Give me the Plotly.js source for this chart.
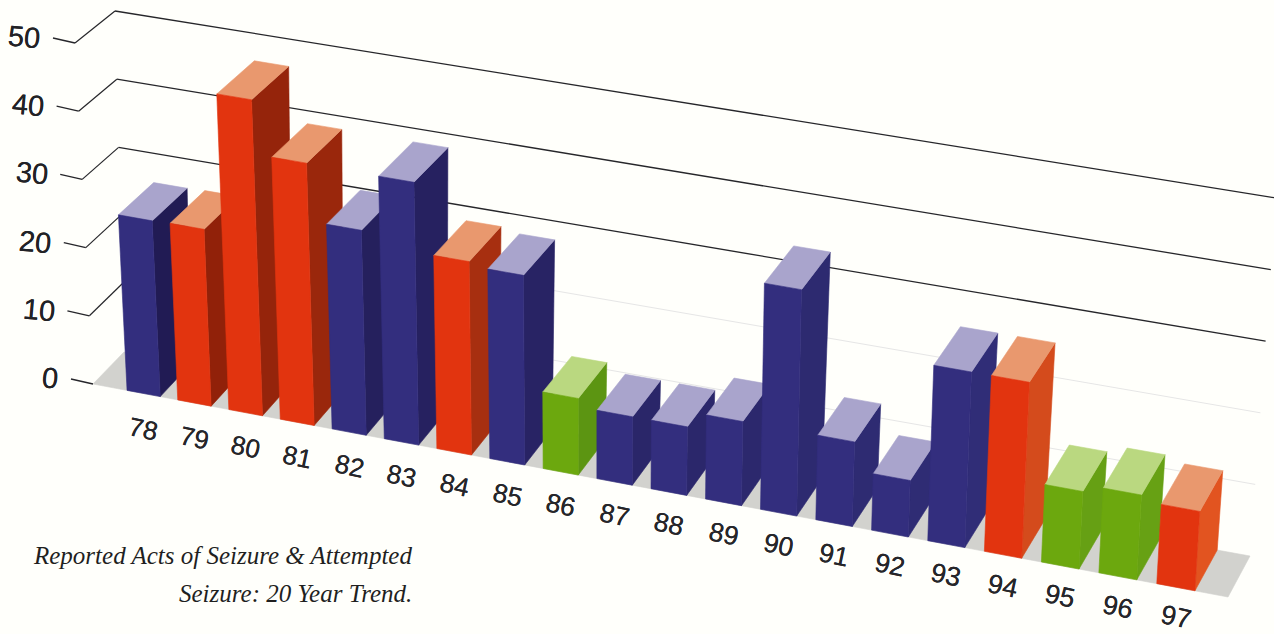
<!DOCTYPE html>
<html>
<head>
<meta charset="utf-8">
<script src="https://cdn.plot.ly/plotly-3.0.1.min.js"></script>
<style>html,body{margin:0;padding:0;background:#fffffb}</style>
</head>
<body>
<div id="chart" style="width:1274px;height:634px"></div>
<script>
// Reported acts of seizure per year, 1978-1997
const years  = ["78","79","80","81","82","83","84","85","86","87","88","89","90","91","92","93","94","95","96","97"];
const acts   = [25.7,25.8,46,38.1,29.7,38,27.9,27.3,11,9.8,9.8,12,32.2,12,8,24.8,24.8,10.9,11.9,11.1];
const kinds  = ["blue","red","red","red","blue","blue","red","blue","green","blue","blue","blue","blue","blue","blue","blue","red","green","green","red"];
const yTicks = [0,10,20,30,40,50];
const captionLines = ["Reported Acts of Seizure &amp; Attempted","Seizure: 20 Year Trend."];

const VMAX = 50;
const palette = {
  blue:  {front:"#332e7e", top:"#a9a4cc", sideL:[33,27,84],  sideR:[52,50,128]},
  red:   {front:"#e2340f", top:"#e9986e", sideL:[140,30,8],  sideR:[226,84,32]},
  green: {front:"#6ca80e", top:"#bad880", sideL:[84,140,16], sideR:[104,162,20]}
};

// Corners of the oblique view box: [front|back][Left|Right][floor|top]
const box = {
  fL0:[93,384],  bL0:[124,352], fR0:[1228,597], bR0:[1250,556],
  fL1:[75,43],   bL1:[115,11],  fR1:[1251,239], bR1:[1276,198]
};

// Position along the floor for slot i, with a slight foreshortening to the left
const slot = i => 0.03 + 0.04452 * i / (1 - 0.00356 * i);

// Maps (t along the floor, d into the depth, v in data units) onto the page
function project(t, d, v) {
  const w = v / VMAX;
  const out = [0, 0];
  for (let k = 0; k < 2; k++) {
    const floorF = box.fL0[k] + (box.fR0[k] - box.fL0[k]) * t;
    const floorB = box.bL0[k] + (box.bR0[k] - box.bL0[k]) * t;
    const topF   = box.fL1[k] + (box.fR1[k] - box.fL1[k]) * t;
    const topB   = box.bL1[k] + (box.bR1[k] - box.bL1[k]) * t;
    const f = floorF + (topF - floorF) * w;
    const b = floorB + (topB - floorB) * w;
    out[k] = f + (b - f) * d;
  }
  return out;
}

function poly(points, color, width, name) {
  const closed = points.concat([points[0]]);
  return {
    type: "scatter", mode: "lines", fill: "toself", fillcolor: color,
    x: closed.map(p => p[0]), y: closed.map(p => p[1]),
    line: {color: color, width: width === undefined ? 0.6 : width},
    hoverinfo: name ? "text" : "skip", text: name || "", showlegend: false
  };
}

function line(points, color, width) {
  return {
    type: "scatter", mode: "lines",
    x: points.map(p => p[0]), y: points.map(p => p[1]),
    line: {color: color, width: width}, hoverinfo: "skip", showlegend: false
  };
}

const traces = [];

// Back wall rules and their tick leaders
yTicks.forEach(v => {
  if (v > 0) {
    const strong = v >= 30;
    traces.push(line([project(0, 1, v), project(1, 1, v)], strong ? "#26262a" : "#e6e6e6", strong ? 1.3 : 1));
    traces.push(line([project(0, 0, v), project(0, 1, v)], "#26262a", 1.2));
  }
  const a = project(0, 0, v);
  traces.push(line([[a[0] - 22, a[1] - 5], a], "#26262a", 1.3));
});

// Floor
traces.push(poly([project(0,0,0), project(1,0,0), project(1,1,0), project(0,1,0)], "#d2d2ce"));

// Bars, painted left to right so that each one overlaps its neighbour's side
acts.forEach((value, i) => {
  const c = palette[kinds[i]];
  const t0 = slot(i), t1 = slot(i + 0.655);
  const f = i / (years.length - 1);
  const side = "rgb(" + c.sideL.map((s, k) => Math.round(s + (c.sideR[k] - s) * f)).join(",") + ")";
  const label = "19" + years[i] + ": " + value;
  traces.push(poly([project(t1,0,0), project(t1,1,0), project(t1,1,value), project(t1,0,value)], side));
  traces.push(poly([project(t0,0,value), project(t1,0,value), project(t1,1,value), project(t0,1,value)], c.top));
  traces.push(poly([project(t0,0,0), project(t1,0,0), project(t1,0,value), project(t0,0,value)], c.front, 0.6, label));
});

const annotations = [];
const labelShadow = "0 0 0.6px #222226";

// Year labels under each bar front, drawn closer to the floor toward the near end
years.forEach((yr, i) => {
  const f = i / (years.length - 1);
  const p = project((slot(i) + slot(i + 0.655)) / 2, 0, 0);
  annotations.push({
    x: p[0], y: p[1] + 35 - 5 * f, xref: "x", yref: "y", text: yr, showarrow: false, textangle: 12,
    xanchor: "center", yanchor: "middle",
    font: {family: "Liberation Sans, Arial, sans-serif", size: 26 + f, color: "#26262a", shadow: labelShadow}
  });
});

// Value labels beside the tick leaders
yTicks.forEach(v => {
  const a = project(0, 0, v);
  annotations.push({
    x: a[0] - 31, y: a[1] - 6, xref: "x", yref: "y", text: String(v), showarrow: false, textangle: 5,
    xanchor: "right", yanchor: "middle",
    font: {family: "Liberation Sans, Arial, sans-serif", size: 29, color: "#222226", shadow: labelShadow}
  });
});

// Caption, right aligned
captionLines.forEach((text, n) => {
  annotations.push({
    x: 414, y: 555 + n * 38, xref: "x", yref: "y", text: text, showarrow: false,
    xanchor: "right", yanchor: "middle", align: "right",
    font: {family: "Liberation Serif, serif", size: 25, style: "italic", color: "#1f1f1f"}
  });
});

const layout = {
  width: 1274, height: 634,
  margin: {l: 0, r: 0, t: 0, b: 0},
  paper_bgcolor: "#fffffb", plot_bgcolor: "#fffffb",
  showlegend: false,
  xaxis: {range: [0, 1274], visible: false, fixedrange: true},
  yaxis: {range: [634, 0], visible: false, fixedrange: true},
  annotations: annotations
};

Plotly.newPlot("chart", traces, layout, {displayModeBar: false, responsive: false});
</script>
</body>
</html>
